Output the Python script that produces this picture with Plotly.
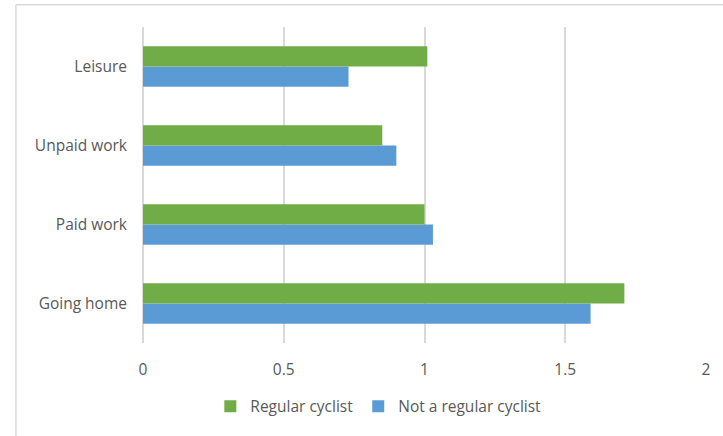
import plotly.graph_objects as go

categories = ["Going home", "Paid work", "Unpaid work", "Leisure"]
regular_cyclist = [1.71, 1.00, 0.85, 1.01]
not_regular_cyclist = [1.59, 1.03, 0.90, 0.73]
x_ticks = [0, 0.5, 1, 1.5, 2]
x_tick_labels = ["0", "0.5", "1", "1.5", "2"]

GREEN = "#70AD47"
BLUE = "#5B9BD5"
GRID = "#D9D9D9"
TEXT = "#595959"
FONT = "Open Sans"
FS = 15.5

fig = go.Figure()
fig.add_trace(go.Bar(
    y=categories, x=not_regular_cyclist, orientation="h",
    name="Not a regular cyclist", marker=dict(color=BLUE, line=dict(width=0)),
))
fig.add_trace(go.Bar(
    y=categories, x=regular_cyclist, orientation="h",
    name="Regular cyclist", marker=dict(color=GREEN, line=dict(width=0)),
))

W, H = 723, 436
ml, mr, mt, mb = 143, 13, 27, 91
pw, ph = W - ml - mr, H - mt - mb

def px_x(p):
    return (p - ml) / pw

def px_y(p):
    return 1 - (p - mt) / ph

# chart-area border (partially cropped in reference)
fig.add_shape(type="line", xref="paper", yref="paper",
              x0=px_x(15), x1=px_x(760), y0=px_y(4.5), y1=px_y(4.5),
              line=dict(color=GRID, width=1.5))
fig.add_shape(type="line", xref="paper", yref="paper",
              x0=px_x(15), x1=px_x(15), y0=px_y(4.5), y1=px_y(460),
              line=dict(color=GRID, width=1.5))

fig.update_layout(
    width=W, height=H,
    margin=dict(l=ml, r=mr, t=mt, b=mb),
    paper_bgcolor="white", plot_bgcolor="white",
    barmode="group", bargap=0.485, bargroupgap=0,
    font=dict(family=FONT, size=FS, color=TEXT),
    legend=dict(
        orientation="h", traceorder="reversed",
        x=px_x(380), xanchor="center", y=px_y(409), yanchor="middle",
        font=dict(family=FONT, size=FS, color=TEXT),
        itemwidth=30,
    ),
    showlegend=True,
)
fig.update_xaxes(
    range=[0, 2], tickvals=x_ticks, ticktext=x_tick_labels,
    showgrid=True, gridcolor=GRID, gridwidth=1.5,
    zeroline=True, zerolinecolor=GRID, zerolinewidth=1.5,
    showline=False, ticks="", ticklabelstandoff=15,
    tickfont=dict(family=FONT, size=FS, color=TEXT),
)
fig.update_yaxes(
    categoryorder="array", categoryarray=categories,
    showgrid=False, showline=False, ticks="", ticklabelstandoff=15,
    tickfont=dict(family=FONT, size=FS, color=TEXT),
)

fig.write_html("out.html")
